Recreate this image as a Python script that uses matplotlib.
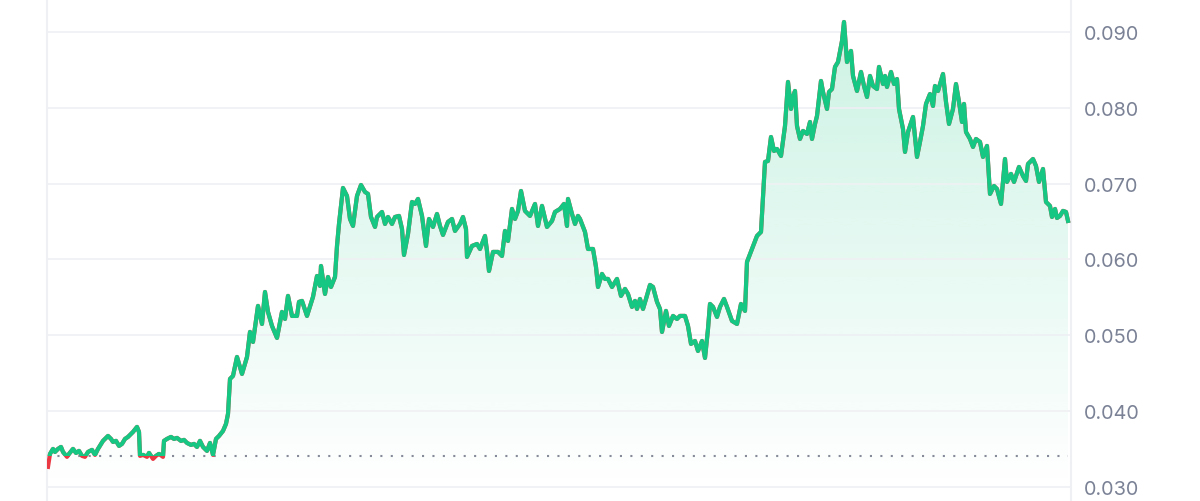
import matplotlib.pyplot as plt
import numpy as np
from matplotlib.patches import Rectangle, Polygon

# time index (steps from the left edge of the chart)
t = [1, 3, 6, 8, 11, 14, 16, 20, 22, 26, 29, 32, 35, 38, 41, 45, 48, 51, 56, 59, 61, 64, 66, 69,
     72, 75, 78, 81, 84, 86, 90, 92, 93, 96, 100, 102, 106, 109, 112, 116, 117, 120, 124, 127,
     130, 134, 137, 140, 144, 147, 150, 153, 156, 160, 163, 166, 169, 172, 176, 179, 181,
     183, 186, 190, 195, 200, 203, 206, 211, 215, 218, 221, 225, 230, 235, 238, 241, 245, 250,
     252, 255, 260, 266, 270, 273, 274, 278, 281, 284, 288, 290, 292, 296, 300, 303, 306, 310,
     314, 318, 321, 324, 328, 330, 335, 338, 341, 345, 348, 352, 355, 357, 361, 365, 368, 371,
     375, 379, 382, 386, 390, 393, 396, 401, 405, 408, 413, 416, 419, 420, 425, 430, 433, 438,
     440, 442, 446, 451, 455, 458, 461, 465, 468, 471, 474, 478, 483, 488, 491, 495, 500, 505,
     508, 513, 517, 520, 521, 525, 528, 531, 533, 538, 541, 546, 549, 551, 555, 558, 561, 565,
     570, 574, 578, 581, 585, 588, 590, 593, 596, 599, 603, 606, 610, 613, 615, 619, 622, 626,
     630, 633, 638, 641, 644, 648, 651, 655, 658, 661, 663, 666, 670, 673, 677, 680, 685, 690,
     694, 698, 700, 705, 710, 714, 716, 718, 721, 724, 727, 730, 734, 738, 741, 744, 746, 748,
     750, 753, 756, 760, 763, 765, 768, 770, 774, 776, 780, 782, 785, 788, 791, 795, 797, 800,
     804, 806, 810, 814, 817, 820, 823, 826, 830, 832, 836, 838, 840, 844, 847, 850, 852, 856,
     858, 861, 866, 870, 873, 876, 879, 883, 886, 888, 891, 896, 899, 902, 906, 909, 912, 915,
     917, 919, 923, 926, 929, 933, 936, 940, 943, 947, 950, 954, 958, 960, 964, 967, 972, 976,
     979, 981, 986, 989, 992, 996, 999, 1003, 1005, 1008, 1010, 1013, 1016, 1019, 1021]

price = [32.64, 34.35, 35.01, 34.61, 35.01, 35.27, 34.61, 33.96, 34.35, 35.01, 34.48, 34.75,
         34.09, 33.96, 34.61, 34.88, 34.22, 35.01, 36.07, 36.46, 36.72, 36.33, 35.93, 36.07,
         35.41, 35.67, 36.33, 36.59, 36.99, 37.25, 37.91, 37.25, 34.09, 34.22, 33.96, 34.48,
         33.69, 34.09, 34.35, 33.96, 36.07, 36.33, 36.59, 36.33, 36.46, 36.07, 36.20, 35.80,
         35.54, 35.67, 35.27, 36.07, 35.27, 34.75, 35.80, 34.22, 36.33, 36.72, 37.38, 38.31,
         39.63, 44.24, 44.64, 47.14, 44.90, 47.14, 50.44, 49.12, 53.87, 51.49, 55.71, 53.08,
         51.23, 49.65, 53.08, 52.15, 55.19, 52.55, 52.55, 54.40, 54.53, 52.55, 55.06, 57.82,
         56.51, 59.14, 55.45, 57.69, 56.37, 57.69, 61.78, 64.68, 69.43, 68.37, 65.34, 64.42,
         68.37, 69.82, 68.90, 68.64, 65.60, 64.29, 65.60, 66.26, 64.68, 65.60, 64.68, 65.60,
         65.74, 64.02, 60.59, 63.36, 67.58, 67.32, 67.98, 65.74, 61.78, 65.34, 64.29, 66.00,
         64.42, 63.23, 64.95, 65.34, 63.76, 64.68, 65.60, 64.02, 60.33, 61.78, 62.04, 61.38,
         63.10, 61.12, 58.48, 60.99, 60.99, 60.46, 63.76, 62.44, 66.66, 65.34, 66.40, 69.03,
         66.40, 65.74, 67.32, 64.42, 67.06, 64.29, 65.08, 66.26, 66.66, 67.32, 64.42, 67.98,
         66.00, 64.68, 65.74, 65.34, 63.63, 61.38, 61.38, 59.01, 56.37, 58.09, 57.43, 57.43,
         56.37, 57.43, 55.19, 56.11, 55.45, 53.74, 54.53, 53.47, 54.79, 53.47, 54.79, 56.64,
         56.37, 54.40, 53.47, 50.44, 53.21, 51.23, 52.55, 52.15, 52.55, 52.55, 51.23, 48.86,
         49.25, 47.93, 49.25, 47.01, 50.84, 54.13, 53.74, 52.42, 53.74, 54.79, 53.74, 51.89,
         51.49, 54.13, 53.21, 59.67, 61.38, 63.10, 63.63, 68.37, 72.86, 72.99, 76.15, 74.31,
         74.57, 73.65, 77.60, 83.41, 79.85, 81.43, 82.22, 77.60, 75.89, 76.95, 76.55, 78.13,
         75.89, 77.87, 78.92, 83.54, 82.09, 79.85, 82.09, 82.48, 85.39, 86.04, 88.81, 91.32,
         86.04, 87.50, 84.20, 82.22, 84.73, 82.88, 81.43, 84.20, 82.88, 82.48, 85.39, 83.14,
         84.20, 82.75, 84.73, 83.14, 83.80, 79.85, 77.21, 74.18, 76.81, 78.79, 73.52, 75.50,
         77.60, 80.51, 81.82, 80.24, 82.88, 82.22, 84.46, 80.77, 77.87, 79.85, 83.14, 80.77,
         78.13, 80.51, 76.81, 75.89, 74.84, 75.89, 75.50, 73.52, 74.97, 68.64, 69.69, 69.30,
         67.32, 73.25, 70.22, 71.28, 70.22, 72.20, 71.01, 70.35, 72.59, 73.25, 72.33, 70.22,
         71.93, 67.58, 67.06, 65.60, 66.66, 65.47, 65.74, 66.40, 66.26, 65.08]
price = [p / 1000 for p in price]

baseline = 0.0341
yticks = [0.030, 0.040, 0.050, 0.060, 0.070, 0.080, 0.090]
ylabels = ["0.030", "0.040", "0.050", "0.060", "0.070", "0.080", "0.090"]

green = "#16c784"
red = "#ea3943"

plt.rcParams['font.family'] = ['Inter', 'DejaVu Sans']

fig = plt.figure(figsize=(12, 5.02), dpi=100)
ax = fig.add_axes([47 / 1200, 0, 1024 / 1200, 1])
ax.set_xlim(0, 1024)
ax.set_ylim(0.02814, 0.09435)

# gradient fill under the line
x = np.array(t, dtype=float)
y = np.array(price)
verts = [(x[0], 0.02814)] + list(zip(x, y)) + [(x[-1], 0.02814)]
poly = Polygon(verts, closed=True, facecolor="none", edgecolor="none")
ax.add_patch(poly)
grad = np.linspace(0.0, 1.0, 256)
cols = np.zeros((256, 1, 4))
cols[..., 0] = 22 / 255
cols[..., 1] = 199 / 255
cols[..., 2] = 132 / 255
cols[:, 0, 3] = 0.22 * grad
img = ax.imshow(cols, aspect="auto", origin="lower",
                extent=(0, 1024, 0.03, 0.092), zorder=1, interpolation="bilinear")
img.set_clip_path(poly)

# line: red below baseline, green above
ax.plot(x, y, color=red, lw=3.0, zorder=3, solid_joinstyle="round")
gl, = ax.plot(x, y, color=green, lw=3.0, zorder=4, solid_joinstyle="round")
gl.set_clip_path(Rectangle((0, baseline), 1024, 1.0, transform=ax.transData))

ax.axhline(baseline, xmin=0, xmax=1021 / 1024, color="#858b99", lw=1.5,
           linestyle=(0, (1, 4)), zorder=2)

ax.yaxis.tick_right()
ax.set_yticks(yticks)
ax.set_yticklabels(ylabels)
ax.tick_params(axis="y", length=0, pad=9, labelsize=14.3, labelcolor="#7b8296")
ax.set_xticks([])
ax.grid(axis="y", color="#eff0f3", lw=1.2, zorder=0)
for s in ["top", "bottom"]:
    ax.spines[s].set_visible(False)
for s in ["left", "right"]:
    ax.spines[s].set_color("#eff0f3")
    ax.spines[s].set_linewidth(1.5)

fig.savefig("out.png", dpi=100)
